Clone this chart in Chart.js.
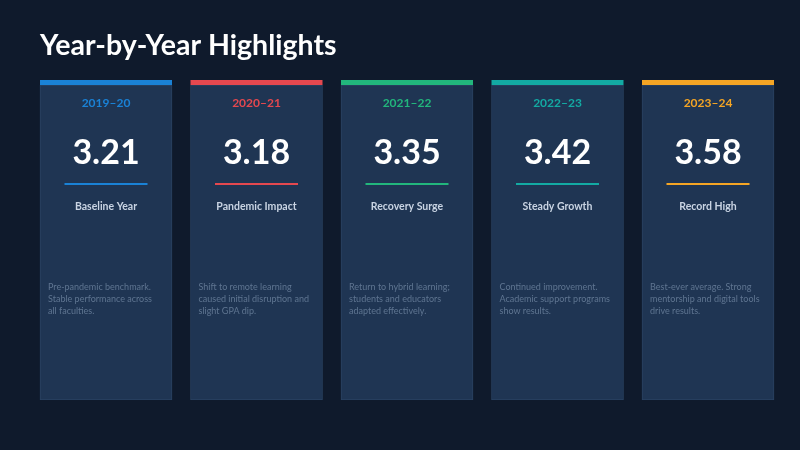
<!DOCTYPE html>
<html><head><meta charset="utf-8">
<script src="https://cdn.jsdelivr.net/npm/chart.js@4.4.0/dist/chart.umd.min.js"></script>
<style>html,body{margin:0;padding:0;background:#0f1a2c;}#wrap{width:800px;height:450px;}</style>
</head><body><div id="wrap"><canvas id="c" width="800" height="450"></canvas></div>
<script>
const years = ["2019–20","2020–21","2021–22","2022–23","2023–24"];
const gpas = [3.21, 3.18, 3.35, 3.42, 3.58];
const titles = ["Baseline Year","Pandemic Impact","Recovery Surge","Steady Growth","Record High"];
const descriptions = [
  ["Pre-pandemic benchmark.","Stable performance across","all faculties."],
  ["Shift to remote learning","caused initial disruption and","slight GPA dip."],
  ["Return to hybrid learning;","students and educators","adapted effectively."],
  ["Continued improvement.","Academic support programs","show results."],
  ["Best-ever average. Strong","mentorship and digital tools","drive results."]
];
const accents = ["#1a82d6","#e5484f","#22b67c","#13aaa3","#f5a524"];
const heading = "Year-by-Year Highlights";
const cardRange = years.map(() => [0, 1]);

const F = "Lato, 'Open Sans', sans-serif";
const cardPlugin = {
  id: 'cards',
  beforeDraw(chart) {
    const ctx = chart.ctx;
    ctx.save();
    ctx.fillStyle = '#0f1a2c';
    ctx.fillRect(0, 0, chart.width, chart.height);
    ctx.fillStyle = '#ffffff';
    ctx.font = "bold 28.5px " + F;
    ctx.textAlign = 'left';
    ctx.textBaseline = 'alphabetic';
    ctx.fillText(heading, 40, 55);
    ctx.restore();
  },
  afterDatasetsDraw(chart) {
    const ctx = chart.ctx;
    const meta = chart.getDatasetMeta(0);
    ctx.save();
    meta.data.forEach((bar, i) => {
      const left = bar.x - bar.width / 2;
      const top = Math.min(bar.y, bar.base);
      const cx = bar.x;
      ctx.fillStyle = accents[i];
      ctx.fillRect(left, top - 5, bar.width, 5);
      ctx.textAlign = 'center';
      ctx.textBaseline = 'middle';
      ctx.fillStyle = accents[i];
      ctx.font = "bold 12px " + F;
      ctx.fillText(years[i], cx, top + 18);
      ctx.fillStyle = '#ffffff';
      ctx.font = "bold 34px " + F;
      ctx.fillText(gpas[i].toFixed(2), cx, top + 68);
      ctx.fillStyle = accents[i];
      ctx.fillRect(cx - 41.5, top + 98, 83, 2);
      ctx.fillStyle = '#c9d4e3';
      ctx.font = "bold 10.5px " + F;
      ctx.fillText(titles[i], cx, top + 122);
      ctx.textAlign = 'left';
      ctx.fillStyle = '#5f7591';
      ctx.font = "9px " + F;
      descriptions[i].forEach((line, k) => {
        ctx.fillText(line, left + 8, top + 202 + k * 12);
      });
    });
    ctx.restore();
  }
};

new Chart(document.getElementById('c'), {
  type: 'bar',
  data: {
    labels: years,
    datasets: [{
      data: cardRange,
      backgroundColor: '#1f3553',
      borderColor: '#2a4262',
      borderWidth: 1,
      borderSkipped: false,
      barThickness: 132
    }]
  },
  options: {
    responsive: false,
    animation: false,
    devicePixelRatio: 1,
    layout: { padding: { left: 30.75, right: 16.75, top: 85, bottom: 50 } },
    plugins: { legend: { display: false }, tooltip: { enabled: false }, title: { display: false } },
    scales: {
      x: { display: false, offset: true, grid: { display: false } },
      y: { display: false, min: 0, max: 1 }
    }
  },
  plugins: [cardPlugin]
});
</script></body></html>
